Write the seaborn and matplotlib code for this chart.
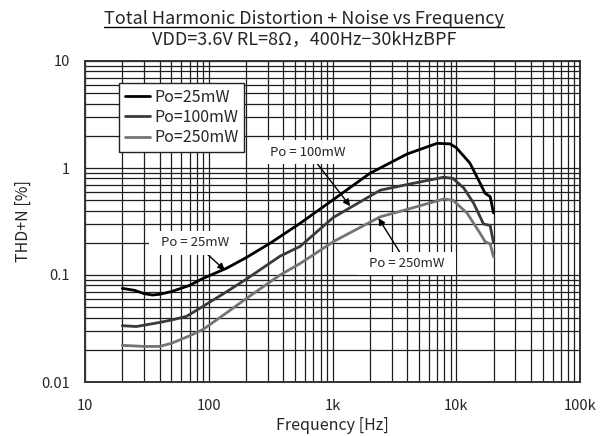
import numpy as np
import pandas as pd
import matplotlib
matplotlib.use("Agg")
import matplotlib.pyplot as plt
from matplotlib.lines import Line2D
from matplotlib.ticker import FixedLocator, FixedFormatter, NullFormatter, LogLocator
import seaborn as sns

# THD+N vs frequency, three output power levels
freq_25mw = [20, 25, 30, 35, 40, 50, 70, 90, 140, 200, 313, 547, 1000, 2000, 4000,
             7000, 8900, 10000, 12900, 15600, 17100, 18800, 20000]
thd_25mw = [0.075, 0.072, 0.067, 0.065, 0.066, 0.070, 0.080, 0.093, 0.116, 0.145, 0.198,
            0.304, 0.50, 0.89, 1.35, 1.70, 1.68, 1.55, 1.11, 0.72, 0.58, 0.54, 0.38]

freq_100mw = [20, 26, 40, 50, 66, 90, 140, 200, 377, 547, 1016, 2430, 4000, 7890,
              9400, 11500, 13800, 16600, 18800, 20000]
thd_100mw = [0.0336, 0.033, 0.036, 0.038, 0.041, 0.051, 0.070, 0.091, 0.150, 0.185,
             0.345, 0.62, 0.70, 0.82, 0.80, 0.65, 0.47, 0.30, 0.29, 0.20]

freq_250mw = [20, 30, 40, 50, 70, 90, 140, 200, 377, 547, 1016, 2430, 4000, 7890,
              9400, 12200, 15600, 17100, 18800, 20000]
thd_250mw = [0.022, 0.0215, 0.0215, 0.023, 0.027, 0.031, 0.0445, 0.060, 0.100, 0.128,
             0.205, 0.35, 0.41, 0.513, 0.50, 0.38, 0.245, 0.205, 0.195, 0.148]

series_names = ["Po=25mW", "Po=100mW", "Po=250mW"]
series_colors = ["#000000", "#3a3a3a", "#747474"]

x_tick_values = [10, 100, 1000, 10000, 100000]
x_tick_labels = ["10", "100", "1k", "10k", "100k"]
y_tick_values = [0.01, 0.1, 1, 10]
y_tick_labels = ["0.01", "0.1", "1", "10"]

frames = []
for name, f, v in zip(series_names,
                      [freq_25mw, freq_100mw, freq_250mw],
                      [thd_25mw, thd_100mw, thd_250mw]):
    frames.append(pd.DataFrame({"freq": f, "thd": v, "Po": name}))
df = pd.concat(frames, ignore_index=True)

sns.set_style("white")
plt.rcParams["font.family"] = ["Noto Sans CJK JP", "DejaVu Sans"]

fig = plt.figure(figsize=(6.08, 4.36), dpi=100)
ax = fig.add_axes([85 / 608, 1 - 382 / 436, 495 / 608, 321 / 436])

ax.set_xscale("log")
ax.set_yscale("log")
ax.set_xlim(10, 100000)
ax.set_ylim(0.01, 10)

# dense log grid behind the curves
ax.xaxis.set_major_locator(FixedLocator(x_tick_values))
ax.xaxis.set_major_formatter(FixedFormatter(x_tick_labels))
ax.xaxis.set_minor_locator(LogLocator(base=10, subs=np.arange(2, 10)))
ax.xaxis.set_minor_formatter(NullFormatter())
ax.yaxis.set_major_locator(FixedLocator(y_tick_values))
ax.yaxis.set_major_formatter(FixedFormatter(y_tick_labels))
ax.yaxis.set_minor_locator(LogLocator(base=10, subs=np.arange(2, 10)))
ax.yaxis.set_minor_formatter(NullFormatter())
ax.grid(True, which="both", color="#1e1e1e", linewidth=0.9)
ax.set_axisbelow(True)
ax.tick_params(which="both", length=0)
ax.tick_params(axis="x", pad=12, labelsize=10.5)
ax.tick_params(axis="y", pad=11, labelsize=10.5)

sns.lineplot(data=df, x="freq", y="thd", hue="Po", palette=series_colors,
             hue_order=series_names, linewidth=2.0, ax=ax, sort=False,
             estimator=None)

for sp in ax.spines.values():
    sp.set_visible(True)
    sp.set_color("#333333")
    sp.set_linewidth(1.4)

ax.set_xlabel("Frequency [Hz]", fontsize=11.5)
ax.set_ylabel("THD+N [%]", fontsize=11.5)
ax.xaxis.set_label_coords(0.5, -0.108)
ax.yaxis.set_label_coords(-0.108, 0.5)

leg = ax.legend(loc="upper left", bbox_to_anchor=(0.0687, 0.931), borderaxespad=0,
                fontsize=11.5, frameon=True, fancybox=False, edgecolor="#222222",
                framealpha=1, handlelength=1.6, handletextpad=0.25,
                labelspacing=0.2, borderpad=0.35)
leg.get_frame().set_linewidth(1.0)

box = dict(boxstyle="square,pad=0.4", facecolor="white", edgecolor="none")
arrow = dict(arrowstyle="-|>", color="black", lw=1.0, mutation_scale=10,
             shrinkA=0, shrinkB=0)
ax.annotate("  Po = 25mW  ", xy=(135, 0.111), xytext=(77, 0.20), fontsize=9.5,
            ha="center", va="center", bbox=box, arrowprops=arrow)
ax.annotate("  Po = 100mW  ", xy=(1390, 0.44), xytext=(636, 1.41), fontsize=9.5,
            ha="center", va="center", bbox=box, arrowprops=arrow)
ax.annotate("  Po = 250mW  ", xy=(2350, 0.34), xytext=(3990, 0.128), fontsize=9.5,
            ha="center", va="center", bbox=box, arrowprops=arrow)

t1 = fig.text(0.5, 1 - 19 / 436, "Total Harmonic Distortion + Noise vs Frequency",
              ha="center", va="center", fontsize=13)
fig.text(0.5, 1 - 39.5 / 436, "VDD=3.6V RL=8Ω，400Hz−30kHzBPF",
         ha="center", va="center", fontsize=13)

fig.canvas.draw()
bb = t1.get_window_extent().transformed(fig.transFigure.inverted())
fig.add_artist(Line2D([bb.x0, bb.x1], [bb.y0 + 0.003, bb.y0 + 0.003],
                      transform=fig.transFigure, color="black", linewidth=1.0))

fig.savefig("out.png", dpi=100)
